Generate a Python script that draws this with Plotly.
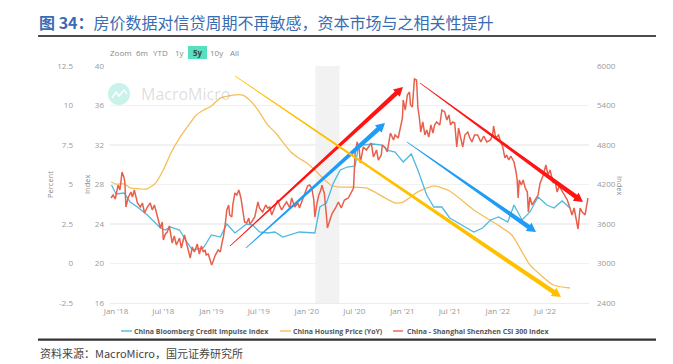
import plotly.graph_objects as go

W, H = 673, 364

csi_dates = """2017-12-13 2017-12-21 2017-12-29 2018-01-09 2018-01-16 2018-01-24 2018-02-01 2018-02-04 2018-02-08 2018-02-16 2018-02-27
2018-03-05 2018-03-12 2018-03-20 2018-03-24 2018-04-04 2018-04-12 2018-04-20 2018-05-01 2018-05-12 2018-05-20 2018-05-28 2018-06-08 2018-06-20 2018-06-27
2018-07-01 2018-07-09 2018-07-16 2018-07-24 2018-08-04 2018-08-12 2018-08-20 2018-09-01 2018-09-08 2018-09-20 2018-09-27 2018-10-04 2018-10-12 2018-10-20 2018-10-28
2018-11-08 2018-11-16 2018-11-24 2018-12-01 2018-12-08 2018-12-12 2018-12-20 2019-01-02 2019-01-08 2019-01-16 2019-01-27 2019-02-04 2019-02-12 2019-02-16 2019-02-24
2019-03-01 2019-03-08 2019-03-12 2019-03-20 2019-03-24 2019-04-01 2019-04-08 2019-04-16 2019-04-24 2019-05-01 2019-05-08 2019-05-16 2019-05-24 2019-05-28 2019-06-04 2019-06-16 2019-06-28
2019-07-04 2019-07-16 2019-07-28 2019-08-04 2019-08-12 2019-08-20 2019-09-01 2019-09-12 2019-09-20 2019-09-27 2019-10-08 2019-10-16 2019-10-28 2019-11-04 2019-11-16 2019-11-28 2019-12-04 2019-12-16 2019-12-24
2020-01-04 2020-01-12 2020-01-20 2020-01-28 2020-02-01 2020-02-08 2020-02-16 2020-02-24 2020-02-28 2020-03-04 2020-03-08 2020-03-16 2020-03-20 2020-04-01 2020-04-08 2020-04-20 2020-05-01 2020-05-12 2020-05-24 2020-06-08 2020-06-20 2020-06-28
2020-07-04 2020-07-12 2020-07-20 2020-07-24 2020-08-01 2020-08-04 2020-08-16 2020-08-28 2020-09-04 2020-09-12 2020-09-24 2020-10-01 2020-10-12 2020-10-16 2020-10-28 2020-11-04 2020-11-16 2020-11-28 2020-12-04 2020-12-16 2020-12-24
2021-01-01 2021-01-04 2021-01-12 2021-01-20 2021-01-28 2021-02-01 2021-02-08 2021-02-16 2021-02-24 2021-02-27 2021-03-01 2021-03-08 2021-03-12 2021-03-20 2021-03-28 2021-04-04 2021-04-12 2021-04-20 2021-04-28 2021-05-04 2021-05-12 2021-05-24 2021-06-01 2021-06-12 2021-06-20 2021-06-28
2021-07-04 2021-07-12 2021-07-20 2021-07-28 2021-08-04 2021-08-12 2021-08-20 2021-08-28 2021-09-08 2021-09-16 2021-09-24 2021-10-04 2021-10-16 2021-10-28 2021-11-08 2021-11-20 2021-12-04 2021-12-12 2021-12-16 2021-12-24
2022-01-04 2022-01-12 2022-01-20 2022-01-28 2022-02-04 2022-02-12 2022-02-20 2022-02-28 2022-03-04 2022-03-12 2022-03-16 2022-03-20 2022-03-24 2022-04-01 2022-04-08 2022-04-16 2022-04-24 2022-04-28 2022-05-04 2022-05-12 2022-05-24 2022-06-04 2022-06-12 2022-06-24
2022-07-04 2022-07-12 2022-07-20 2022-08-01 2022-08-08 2022-08-16 2022-08-24 2022-09-01 2022-09-12 2022-09-24 2022-10-04 2022-10-12 2022-10-20 2022-10-28 2022-11-04 2022-11-12 2022-11-20 2022-12-01 2022-12-08 2022-12-12""".split()

csi_values = [3995, 4040, 3980, 4192, 4116, 4390, 4300, 4223, 3858, 3995, 4086,
    4010, 4116, 3980, 3919, 3858, 3919, 3767, 3858, 3919, 3813, 3889, 3737, 3539, 3630,
    3357, 3448, 3478, 3570, 3311, 3418, 3281, 3387, 3235, 3433, 3311, 3205, 3084, 3251, 3175,
    3296, 3144, 3266, 3175, 3205, 3129, 3144, 2977, 3038, 3129, 3205, 3175, 3342, 3403, 3630,
    3813, 3889, 3737, 3706, 3889, 4071, 4040, 4116, 3995, 3813, 3630, 3615, 3691, 3600, 3630, 3706, 3934,
    3843, 3782, 3889, 3843, 3858, 3737, 3858, 3965, 3874, 3813, 3889, 3934, 3843, 3995, 3858, 3919, 3843, 3965, 4040,
    4177, 4192, 4147, 3965, 3706, 3889, 4040, 4116, 4192, 4116, 4071, 3737, 3539, 3691, 3767, 3843, 3934, 3843, 3965, 3995, 4086, 4147,
    4678, 4846, 4724, 4527, 4694, 4770, 4724, 4785, 4830, 4618, 4724, 4572, 4648, 4800, 4755, 4694, 4982, 4876, 4952, 4906, 5058,
    5210, 5484, 5332, 5560, 5605, 5408, 5377, 5803, 5788, 5560, 5377, 5180, 4997, 5150, 4952, 5028, 4921, 5104, 4982, 5104, 5150, 5104, 5332, 5302, 5180, 5256,
    5104, 5150, 5134, 4770, 5058, 4906, 4770, 4952, 4997, 4906, 4846, 4952, 4952, 4846, 4937, 4846, 4876, 4952, 5089, 4906,
    4952, 4846, 4770, 4603, 4648, 4572, 4633, 4572, 4542, 4390, 4268, 3995, 4268, 4192, 4268, 4147, 4086, 3782, 4010, 3889, 3965, 4040, 4223, 4344,
    4496, 4344, 4420, 4223, 4268, 4086, 4177, 4116, 4040, 3965, 3843, 3737, 3843, 3691, 3524, 3843, 3782, 3737, 3934, 3995]

credit_dates = """2017-12-15 2018-01-01 2018-02-01 2018-02-24 2018-03-24 2018-05-01 2018-06-20 2018-07-08 2018-07-28 2018-09-01 2018-09-24 2018-10-20 2018-12-01
2019-01-01 2019-02-04 2019-03-01 2019-04-01 2019-05-16 2019-06-08 2019-07-04 2019-08-04 2019-09-01 2019-10-01 2019-11-04 2019-12-04
2020-02-01 2020-02-20 2020-03-16 2020-04-12 2020-05-08 2020-06-04 2020-07-04 2020-07-16 2020-08-01 2020-09-12 2020-10-16 2020-11-04 2020-12-04
2021-01-04 2021-02-04 2021-03-01 2021-04-04 2021-05-01 2021-06-01 2021-07-01 2021-08-16 2021-10-01 2021-11-04 2021-12-04
2022-01-04 2022-02-08 2022-03-04 2022-04-04 2022-05-04 2022-06-04 2022-07-08 2022-08-04 2022-09-04 2022-10-04""".split()

credit_values = [27.95, 27.04, 27.14, 26.23, 25.72, 24.91, 23.59, 23.39, 23.70, 23.39, 22.38, 21.37, 21.57,
    22.89, 22.68, 24.0, 23.09, 24.0, 23.9, 23.19, 23.09, 23.19, 22.68, 22.99, 23.19,
    23.09, 25.72, 26.13, 28.15, 29.47, 29.77, 29.87, 31.7, 32.0, 32.1, 32.0, 31.49, 31.29,
    30.28, 31.09, 29.47, 26.94, 25.72, 25.72, 24.61, 23.9, 23.19, 23.59, 24.41,
    24.71, 24.2, 25.92, 24.41, 25.22, 26.73, 25.92, 25.62, 26.33, 25.62]

housing_dates = """2017-12-13 2018-01-01 2018-02-04 2018-02-24 2018-04-01 2018-05-01 2018-06-01 2018-07-01 2018-08-01 2018-09-01 2018-10-01 2018-11-04 2018-12-01
2019-01-01 2019-02-04 2019-03-24 2019-05-01 2019-06-04 2019-06-28 2019-08-04 2019-09-01 2019-11-01 2019-12-01
2020-01-01 2020-02-01 2020-02-28 2020-04-01 2020-05-01 2020-07-01 2020-08-16 2020-09-16 2020-12-04
2021-01-04 2021-03-01 2021-05-01 2021-07-01 2021-10-01 2022-01-01 2022-02-24 2022-05-04 2022-08-01 2022-10-04""".split()

housing_values = [5.16, 5.03, 5.03, 4.78, 4.72, 4.72, 5.09, 5.92, 7.06, 7.94, 8.64, 9.4, 9.7,
    9.97, 10.47, 10.66, 10.66, 10.22, 9.72, 8.77, 8.32, 7.06, 6.68,
    6.36, 5.92, 5.47, 4.97, 4.84, 4.84, 4.78, 4.53, 3.83,
    3.89, 4.53, 4.91, 4.59, 3.39, 2.44, 1.8, -0.09, -1.36, -1.55]

x_tick_dates = ["2018-01-01", "2018-07-01", "2019-01-01", "2019-07-01", "2020-01-01",
                "2020-07-01", "2021-01-01", "2021-07-01", "2022-01-01", "2022-07-01"]
x_tick_labels = ["Jan '18", "Jul '18", "Jan '19", "Jul '19", "Jan '20",
                 "Jul '20", "Jan '21", "Jul '21", "Jan '22", "Jul '22"]
percent_ticks = [-2.5, 0, 2.5, 5, 7.5, 10, 12.5]
percent_labels = ["-2.5", "0", "2.5", "5", "7.5", "10", "12.5"]
index_ticks = [16, 20, 24, 28, 32, 36, 40]
csi_ticks = [2400, 3000, 3600, 4200, 4800, 5400, 6000]

series_names = ["China Bloomberg Credit Impulse Index", "China Housing Price (YoY)",
                "China - Shanghai Shenzhen CSI 300 Index"]
C_BLUE, C_ORANGE, C_RED = "#4fb9df", "#f5bf58", "#e8604c"
FONT = "Open Sans, sans-serif"
CJK = "Noto Sans CJK SC, sans-serif"


def px(x):
    return x / W


def py(y):
    return 1 - y / H


def arrow(tail, head, color, w=4.6, head_len=9, head_w=10):
    dx, dy = head[0] - tail[0], head[1] - tail[1]
    L = (dx * dx + dy * dy) ** 0.5
    ux, uy = dx / L, dy / L
    nx, ny = -uy, ux
    bx, by = head[0] - ux * head_len, head[1] - uy * head_len
    pts = [(tail[0] - nx * .4, tail[1] - ny * .4), (bx - nx * w / 2, by - ny * w / 2),
           (bx - nx * head_w / 2, by - ny * head_w / 2), head,
           (bx + nx * head_w / 2, by + ny * head_w / 2), (bx + nx * w / 2, by + ny * w / 2),
           (tail[0] + nx * .4, tail[1] + ny * .4)]
    path = "M" + " L".join(f"{px(a):.5f},{py(b):.5f}" for a, b in pts) + " Z"
    return dict(type="path", xref="paper", yref="paper", path=path, fillcolor=color,
                line=dict(width=0), layer="above")


def hrule(x0, x1, y, width, color):
    return dict(type="line", xref="paper", yref="paper", x0=px(x0), x1=px(x1), y0=py(y), y1=py(y),
                line=dict(color=color, width=width))


fig = go.Figure()
fig.add_trace(go.Scatter(x=credit_dates, y=credit_values, name=series_names[0], yaxis="y2", mode="lines",
                         line=dict(color=C_BLUE, width=1.3)))
fig.add_trace(go.Scatter(x=housing_dates, y=housing_values, name=series_names[1], yaxis="y", mode="lines",
                         line=dict(color=C_ORANGE, width=1.3, shape="spline", smoothing=0.5)))
fig.add_trace(go.Scatter(x=csi_dates, y=csi_values, name=series_names[2], yaxis="y3", mode="lines",
                         line=dict(color=C_RED, width=1.5)))

shapes = [
    dict(type="rect", xref="x", yref="paper", x0="2020-02-03", x1="2020-05-05", y0=py(303), y1=py(66),
         fillcolor="#f2f2f2", line=dict(width=0), layer="below"),
    hrule(38, 656, 36, 1.6, "#111111"),
    hrule(38, 656, 339.7, 2.2, "#333333"),
    dict(type="rect", xref="paper", yref="paper", x0=px(188), x1=px(207), y0=py(59), y1=py(46),
         fillcolor="#55e0c0", line=dict(width=0), layer="below"),
    dict(type="circle", xref="paper", yref="paper", x0=px(108), x1=px(130), y0=py(105), y1=py(83),
         fillcolor="#c9f3ea", line=dict(width=0), layer="below"),
    dict(type="path", xref="paper", yref="paper", layer="below", fillcolor="rgba(0,0,0,0)",
         path="M" + " L".join(f"{px(a):.5f},{py(b):.5f}" for a, b in
                              [(112, 98), (116, 92), (119, 96), (124, 90), (127, 94)]),
         line=dict(color="#ffffff", width=1.4)),
    arrow((230, 246), (403, 87), "#ff1414"),
    arrow((246, 248), (385, 123), "#1e9cf6"),
    arrow((235, 76), (561, 297), "#ffc000"),
    arrow((420, 83), (583, 202), "#ff1414"),
    arrow((407, 142), (536, 232), "#1e9cf6"),
]

annotations = []


def text(x, y, s, size=8, color="#888888", anchor="left", angle=0, family=FONT):
    annotations.append(dict(xref="paper", yref="paper", x=px(x), y=py(y), text=s, showarrow=False,
                            xanchor=anchor, yanchor="middle", textangle=angle,
                            font=dict(size=size, color=color, family=family), borderpad=0))


for s, cx in [("Zoom", 120.5), ("6m", 142), ("YTD", 160.5), ("1y", 179.5), ("10y", 216.5), ("All", 234)]:
    text(cx, 52.5, s, anchor="center")
text(197.5, 52.5, "<b>5y</b>", color="#444444", anchor="center")
text(140, 94, "MacroMicro", size=16, color="rgba(150,150,150,0.33)")
text(50, 185, "Percent", size=7.5, angle=-90, anchor="center")
text(87, 185, "Index", size=7.5, angle=-90, anchor="center")
text(620, 185, "Index", size=7.5, angle=90, anchor="center")
for (x0, x1, tx), name, c in zip([(121, 132, 133), (280, 291, 292), (393, 403, 406)], series_names,
                                 [C_BLUE, C_ORANGE, C_RED]):
    shapes.append(hrule(x0, x1, 331, 1.4, c))
    text(tx, 331, f"<b>{name}</b>", size=7, color="#555555")
text(39, 353, "资料来源：MacroMicro，国元证券研究所", size=11, color="#444444", family=CJK)

tick_font = dict(size=8, color="#999999", family=FONT)
fig.update_layout(
    width=W, height=H, autosize=False, margin=dict(l=0, r=0, t=0, b=0, pad=0, autoexpand=False),
    paper_bgcolor="white", plot_bgcolor="white", showlegend=False,
    title=dict(text="<b>图 34：</b>房价数据对信贷周期不再敏感，资本市场与之相关性提升", x=px(39), xanchor="left",
               y=py(23), yanchor="middle", xref="container", yref="container",
               font=dict(size=16, color="#3a6cb2", family=CJK)),
    xaxis=dict(domain=[px(110), px(589)], range=["2017-12-09", "2022-12-16"], type="date",
               tickvals=x_tick_dates, ticktext=x_tick_labels, tickfont=tick_font, showgrid=False,
               showline=True, linecolor="#ececec", linewidth=1, ticks="", zeroline=False),
    yaxis=dict(domain=[py(303), py(66)], range=[-2.5, 12.5], tickvals=percent_ticks, ticktext=percent_labels,
               tickfont=tick_font, anchor="free", position=px(73), gridcolor="#f1f1f1", gridwidth=1.2,
               zeroline=False, showline=False, ticks=""),
    yaxis2=dict(domain=[py(303), py(66)], range=[16, 40], tickvals=index_ticks, tickfont=tick_font,
                overlaying="y", anchor="free", position=px(104), showgrid=False, zeroline=False,
                showline=False, ticks=""),
    yaxis3=dict(domain=[py(303), py(66)], range=[2400, 6000], tickvals=csi_ticks, tickfont=tick_font,
                tickformat="d", overlaying="y", side="right", anchor="free", position=px(596), showgrid=False,
                zeroline=False, showline=False, ticks=""),
    shapes=shapes, annotations=annotations,
)

fig.write_html("out.html", config=dict(displayModeBar=False, staticPlot=True),
               post_script="document.body.style.margin='0';document.body.style.overflow='hidden';")
